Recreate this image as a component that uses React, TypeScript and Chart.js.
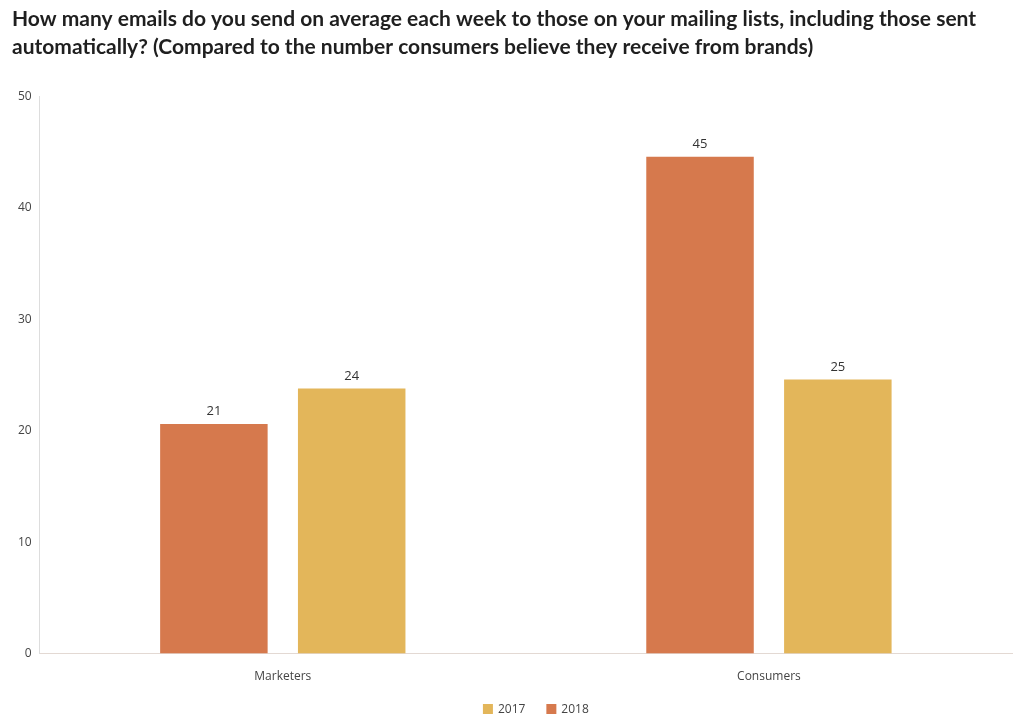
import React, { useEffect, useRef } from "react";
import { Chart, registerables } from "chart.js";

Chart.register(...registerables);

const titleLines = [
  "How many emails do you send on average each week to those on your mailing lists, including those sent",
  "automatically? (Compared to the number consumers believe they receive from brands)",
];
const categories = ["Marketers", "Consumers"];
const series2018 = [20.6, 44.6];
const series2017 = [23.8, 24.6];
const yTicks = [0, 10, 20, 30, 40, 50];

const COLOR_2018 = "#D6794D";
const COLOR_2017 = "#E3B65A";

const valueLabels = {
  id: "valueLabels",
  afterDatasetsDraw(chart: any) {
    const ctx = chart.ctx;
    ctx.save();
    ctx.font = "13px 'Open Sans'";
    ctx.fillStyle = "#333";
    ctx.textAlign = "center";
    ctx.textBaseline = "bottom";
    chart.data.datasets.forEach((ds: any, i: number) => {
      const meta = chart.getDatasetMeta(i);
      meta.data.forEach((bar: any, j: number) => {
        ctx.fillText(String(Math.round(ds.data[j])), bar.x, bar.y - 6);
      });
    });
    ctx.restore();
  },
};

// Bottom legend drawn manually (2017 first, then 2018)
const bottomLegend = {
  id: "bottomLegend",
  afterDraw(chart: any) {
    const ctx = chart.ctx;
    const box = 10;
    const gapText = 5;
    const gapItem = 21;
    ctx.save();
    ctx.font = "12px 'Open Sans'";
    ctx.textBaseline = "middle";
    ctx.textAlign = "left";
    const items = [...chart.data.datasets].reverse();
    const widths = items.map((ds: any) => box + gapText + ctx.measureText(ds.label).width);
    const total = widths.reduce((a: number, b: number) => a + b, 0) + gapItem * (items.length - 1);
    const area = chart.chartArea;
    let x = (area.left + area.right) / 2 + 10 - total / 2;
    const y = 709;
    items.forEach((ds: any, i: number) => {
      ctx.fillStyle = ds.backgroundColor;
      ctx.fillRect(x, y - box / 2, box, box);
      ctx.fillStyle = "#444";
      ctx.fillText(ds.label, x + box + gapText, y + 1);
      x += widths[i] + gapItem;
    });
    ctx.restore();
  },
};

export default function App() {
  const ref = useRef<HTMLCanvasElement>(null);
  useEffect(() => {
    const chart = new Chart(ref.current!, {
      type: "bar",
      data: {
        labels: categories,
        datasets: [
          { label: "2018", data: series2018, backgroundColor: COLOR_2018 },
          { label: "2017", data: series2017, backgroundColor: COLOR_2017 },
        ],
      },
      plugins: [valueLabels, bottomLegend],
      options: {
        animation: false,
        responsive: false,
        layout: { padding: { left: 12, right: 12, top: 2, bottom: 30 } },
        datasets: { bar: { categoryPercentage: 0.567, barPercentage: 0.78 } },
        scales: {
          x: {
            grid: { display: false },
            border: { color: "#e3d9d3", dash: [2, 2] },
            ticks: { color: "#444", font: { family: "'Open Sans'", size: 12 }, padding: 8 },
          },
          y: {
            min: 0,
            max: 50,
            afterBuildTicks: (axis: any) => {
              axis.ticks = yTicks.map((v) => ({ value: v }));
            },
            afterFit: (axis: any) => {
              axis.width += 6;
            },
            grid: { display: false },
            border: { color: "#dddddd" },
            ticks: { color: "#444", font: { family: "'Open Sans'", size: 12 }, padding: 0 },
          },
        },
        plugins: {
          title: {
            display: true,
            text: titleLines,
            align: "start",
            color: "#1f1f1f",
            font: { family: "Lato", size: 21, weight: "bold", lineHeight: 1.3 },
            padding: { top: 4, bottom: 36 },
          },
          legend: { display: false },
          tooltip: { enabled: false },
        },
      },
    });
    return () => chart.destroy();
  }, []);
  return (
    <div style={{ position: "absolute", left: 0, top: 0, width: 1024, height: 722, background: "#fff" }}>
      <canvas ref={ref} width={1024} height={722} />
    </div>
  );
}
